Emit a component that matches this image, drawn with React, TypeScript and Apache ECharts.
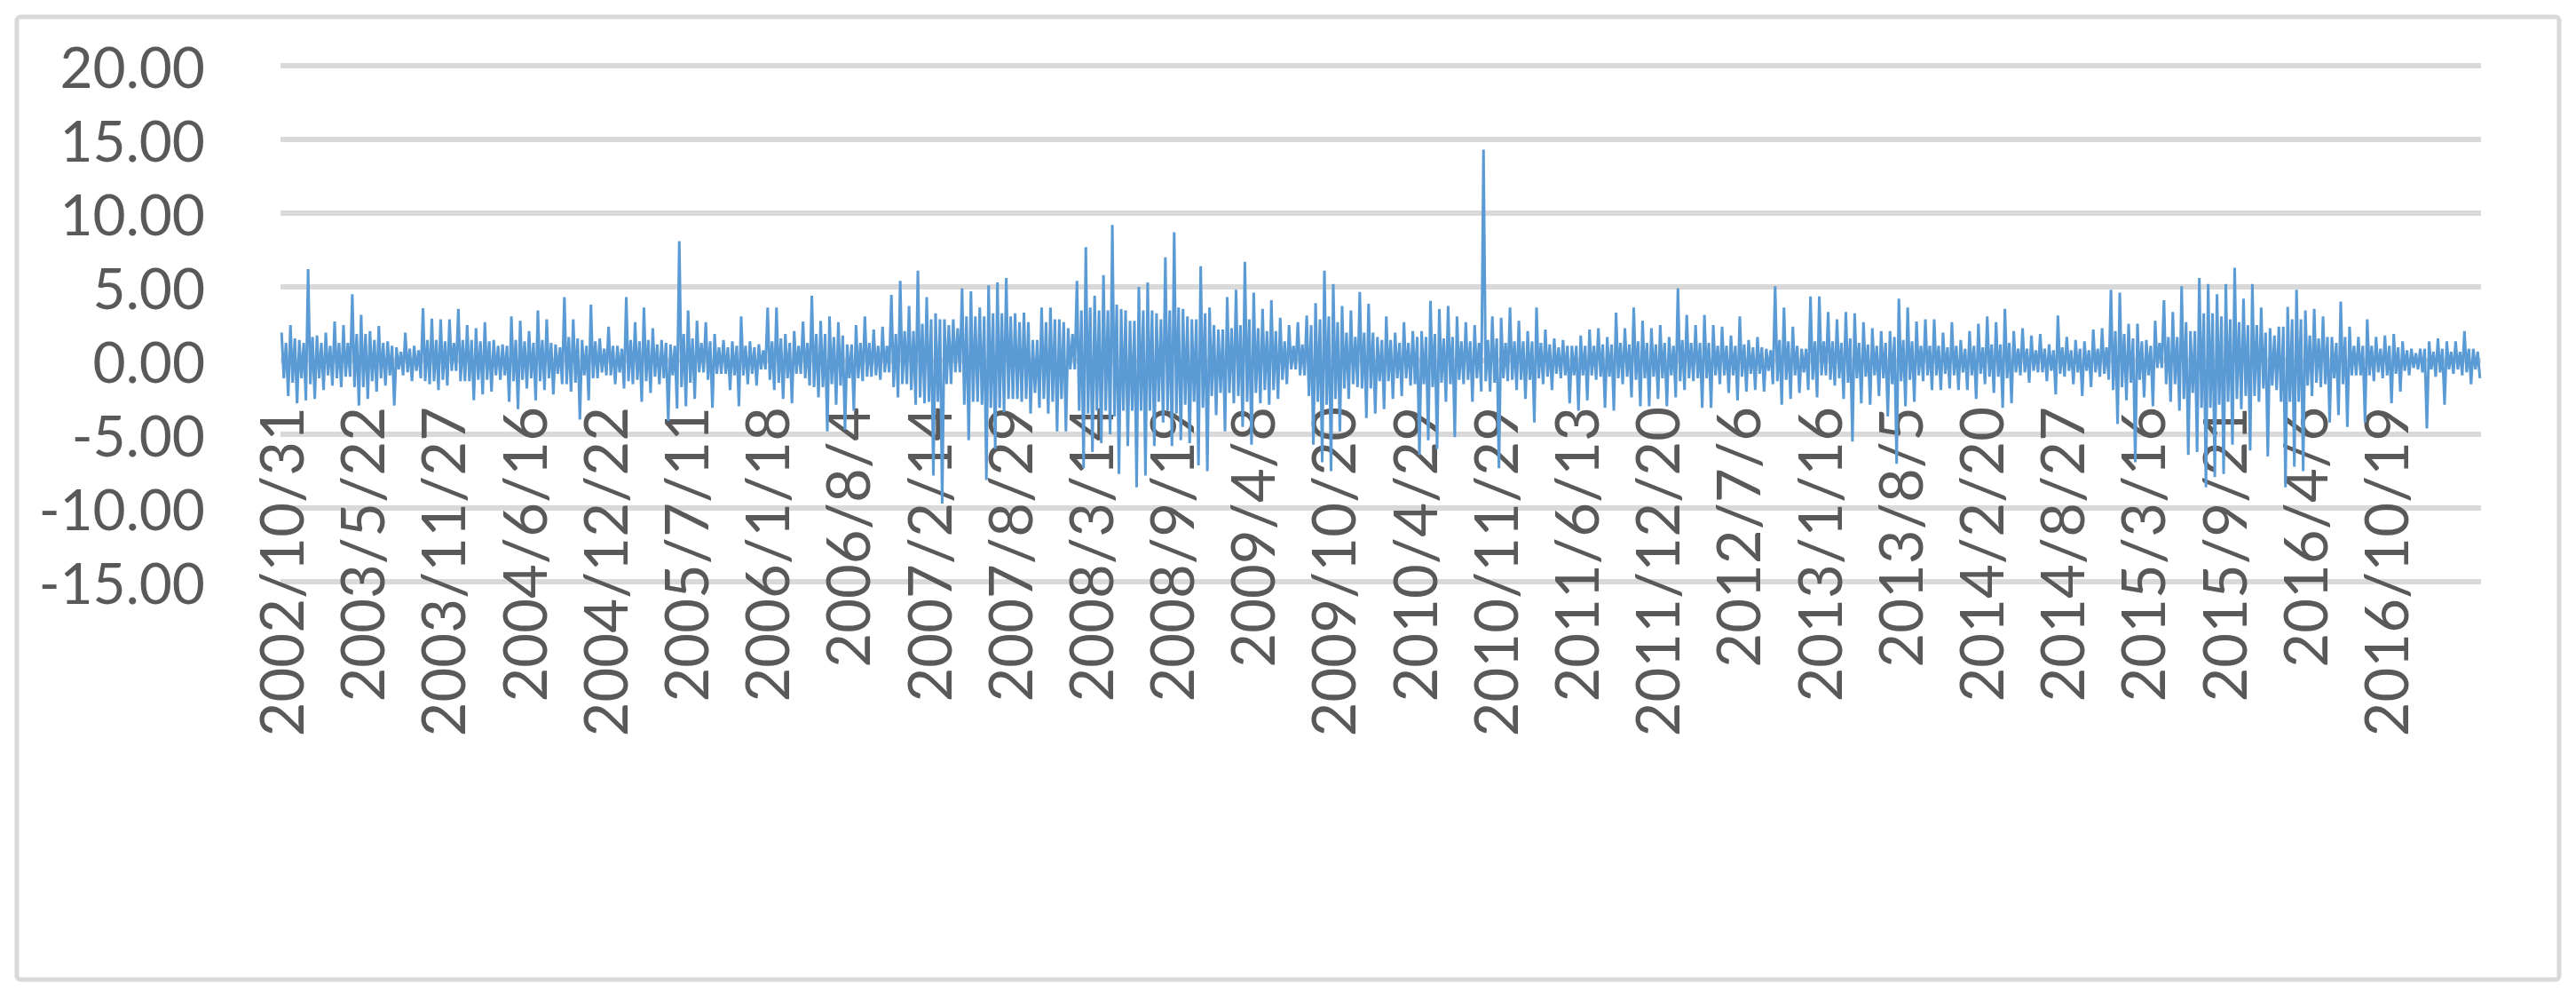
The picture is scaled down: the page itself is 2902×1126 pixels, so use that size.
import React, { useEffect, useRef } from 'react';
import * as echarts from 'echarts';

const tickLabels = [
  '2002/10/31', '2003/5/22', '2003/11/27', '2004/6/16', '2004/12/22', '2005/7/11',
  '2006/1/18', '2006/8/4', '2007/2/14', '2007/8/29', '2008/3/14', '2008/9/19',
  '2009/4/8', '2009/10/20', '2010/4/29', '2010/11/29', '2011/6/13', '2011/12/20',
  '2012/7/6', '2013/1/16', '2013/8/5', '2014/2/20', '2014/8/27', '2015/3/16',
  '2015/9/21', '2016/4/6', '2016/10/19',
];
const totalDays = 3535;
const labelStep = 130;
const yTicks = { min: -15, max: 20, step: 5 };

// Per-window (about 14 trading days) extremes
const highs = [
  1.9, 2.4, 1.4, 6.2, 1.7, 1.9, 2.65, 2.4, 4.5, 3.1, 2.0, 2.35, 1.3, 0.9, 1.9, 1.0, 3.55, 2.85, 2.8, 2.8, 3.5, 2.4, 2.2, 2.6, 1.4,
  1.1, 3.0, 2.7, 2.0, 3.4, 2.8, 1.1, 4.3, 2.8, 1.4, 3.8, 1.5, 2.3, 1.0, 4.3, 2.6, 3.6, 2.2, 1.4, 1.1, 8.1, 3.4, 2.7, 2.6, 1.8,
  1.4, 1.3, 3.0, 1.3, 1.1, 3.6, 3.6, 1.8, 2.0, 2.65, 4.4, 2.7, 3.0, 2.6, 1.1, 2.4, 3.0, 2.1, 2.3, 4.45, 5.4, 3.7, 6.1, 4.3, 3.2,
  2.8, 2.8, 4.9, 4.7, 3.6, 5.1, 5.3, 5.6, 3.2, 3.25, 1.4, 3.6, 3.6, 2.8, 2.2, 5.4, 7.7, 4.4, 5.8, 9.2, 3.5, 2.7, 5.0, 5.3, 3.2,
  7.0, 8.7, 3.5, 2.8, 6.4, 3.6, 2.1, 4.3, 4.8, 6.7, 4.6, 3.5, 4.1, 2.9, 2.4, 2.6, 3.05, 3.9, 6.1, 5.2, 3.7, 3.4, 4.65, 3.85, 1.6,
  3.0, 1.9, 2.6, 2.0, 2.0, 4.05, 3.5, 3.7, 3.0, 2.6, 2.4, 14.3, 3.0, 2.9, 3.6, 2.7, 2.0, 3.6, 2.1, 1.5, 1.4, 1.0, 1.7, 2.1, 2.2,
  1.6, 3.25, 2.2, 3.6, 2.7, 2.2, 2.4, 1.6, 4.9, 3.1, 2.4, 3.1, 2.4, 2.3, 1.7, 3.0, 1.4, 1.6, 0.8, 5.05, 3.6, 2.3, 0.8, 4.35, 4.35,
  3.3, 2.8, 3.3, 3.2, 2.6, 2.2, 2.0, 2.0, 4.2, 3.6, 2.65, 2.8, 2.8, 1.9, 2.6, 1.4, 2.0, 2.5, 3.0, 2.6, 3.5, 2.0, 2.2, 1.7, 1.8,
  1.1, 3.05, 1.6, 1.4, 1.3, 2.1, 2.2, 4.8, 4.6, 2.5, 2.5, 1.4, 2.7, 4.1, 3.3, 5.05, 2.0, 5.6, 5.2, 4.5, 5.2, 6.3, 4.2, 5.2, 3.6,
  2.2, 2.3, 3.65, 4.8, 3.4, 3.5, 3.0, 1.6, 4.0, 2.3, 1.6, 2.8, 1.6, 1.7, 1.8, 1.3, 0.8, 0.8, 1.3, 1.5, 1.3, 1.3, 2.0, 0.8,
];
const lows = [
  -2.4, -2.9, -2.7, -2.6, -2.0, -1.7, -1.8, -1.1, -3.05, -2.6, -2.1, -1.7, -3.05, -1.0, -1.4, -1.2, -1.6, -2.0, -1.7, -0.7, -1.4, -2.7, -2.3, -2.1, -1.3,
  -2.8, -3.3, -1.9, -2.7, -2.0, -2.3, -1.6, -2.1, -4.0, -2.7, -1.2, -1.0, -1.6, -1.9, -1.6, -2.8, -2.2, -1.6, -4.1, -3.25, -3.1, -2.6, -0.8, -3.2, -0.9,
  -2.0, -3.1, -1.6, -1.7, -0.6, -2.0, -2.6, -2.9, -0.9, -1.7, -2.5, -4.8, -3.0, -4.7, -3.4, -1.4, -1.1, -1.3, -0.8, -2.5, -1.6, -3.0, -2.9, -7.8, -9.7,
  -1.6, -0.8, -5.4, -2.8, -8.1, -6.0, -3.5, -2.6, -2.8, -3.6, -3.2, -3.6, -4.8, -4.8, -0.6, -7.3, -6.2, -5.6, -5.0, -7.7, -5.8, -8.6, -7.8, -5.8, -4.2,
  -5.8, -5.4, -5.6, -7.1, -7.5, -3.7, -4.8, -2.9, -4.5, -5.7, -2.9, -3.0, -2.6, -1.6, -0.6, -1.0, -5.7, -6.9, -7.5, -4.8, -2.6, -1.8, -3.9, -3.6, -3.3,
  -2.6, -2.4, -1.7, -6.4, -5.4, -6.0, -2.8, -5.2, -1.6, -2.8, -2.1, -2.1, -7.3, -1.4, -2.0, -2.6, -4.2, -1.6, -2.0, -1.2, -2.9, -3.4, -2.7, -1.3, -3.2,
  -3.4, -1.6, -2.5, -3.1, -3.1, -2.6, -3.1, -2.5, -2.0, -1.4, -3.2, -3.2, -1.6, -2.2, -2.7, -2.1, -2.0, -2.1, -1.6, -3.0, -2.6, -2.2, -2.0, -2.5, -1.0,
  -1.7, -2.6, -5.5, -2.9, -3.0, -2.4, -3.8, -7.0, -3.1, -2.8, -1.4, -2.0, -2.0, -1.9, -2.0, -2.0, -2.6, -1.6, -2.2, -3.2, -2.9, -1.0, -1.5, -0.8, -1.4,
  -2.3, -1.1, -1.6, -2.4, -1.8, -1.1, -1.3, -4.3, -2.7, -6.9, -2.5, -3.1, -0.5, -2.8, -3.4, -6.4, -6.2, -8.6, -7.9, -7.7, -5.7, -3.3, -6.1, -2.8, -6.5,
  -2.0, -8.6, -7.2, -7.5, -2.4, -1.8, -4.2, -3.7, -4.5, -1.0, -4.2, -1.4, -1.2, -2.9, -2.1, -1.0, -0.6, -4.6, -1.1, -3.0, -0.9, -1.0, -1.6, -1.2,
];
// Half-height of the solid core of daily moves in each window
const coreBand = [
  1.2, 1.5, 1.2, 1.6, 1.2, 1.0, 1.2, 1.2, 1.8, 1.8, 1.4, 1.2, 1.0, 0.6, 0.8, 0.7, 1.4, 1.4, 1.3, 1.2, 1.4, 1.4, 1.3, 1.3, 1.0,
  1.0, 1.4, 1.3, 1.2, 1.4, 1.2, 0.9, 1.6, 1.5, 1.0, 1.3, 0.8, 1.0, 0.8, 1.4, 1.3, 1.4, 1.1, 1.2, 1.0, 1.8, 1.5, 1.2, 1.3, 0.9,
  0.9, 1.0, 1.0, 0.9, 0.7, 1.3, 1.5, 1.2, 1.0, 1.2, 1.8, 1.8, 1.6, 1.7, 1.2, 1.2, 1.2, 1.0, 1.0, 1.8, 2.0, 2.0, 2.5, 2.8, 2.8,
  2.4, 2.2, 3.0, 3.0, 3.0, 3.2, 3.2, 3.0, 2.6, 2.6, 2.2, 2.6, 2.8, 2.6, 1.8, 3.4, 3.6, 3.4, 3.4, 3.8, 3.4, 3.4, 3.4, 3.4, 2.8,
  3.4, 3.6, 3.0, 2.8, 3.2, 2.4, 2.2, 2.2, 2.4, 2.8, 2.2, 2.0, 2.0, 1.3, 1.0, 1.1, 2.4, 2.8, 3.0, 2.6, 1.9, 1.6, 1.9, 1.9, 1.4,
  1.4, 1.2, 1.2, 1.6, 1.6, 1.8, 1.5, 1.6, 1.3, 1.3, 1.2, 1.4, 1.5, 1.2, 1.3, 1.3, 1.3, 1.2, 1.1, 0.9, 1.0, 1.0, 1.0, 1.0, 1.1,
  1.1, 1.2, 1.1, 1.3, 1.2, 1.1, 1.2, 1.0, 1.4, 1.2, 1.2, 1.2, 1.0, 1.0, 1.0, 1.1, 0.9, 0.9, 0.7, 1.4, 1.3, 1.0, 0.8, 1.3, 1.3,
  1.3, 1.2, 1.5, 1.2, 1.1, 1.0, 1.2, 1.6, 1.4, 1.3, 1.0, 1.0, 1.0, 0.9, 1.0, 0.8, 1.0, 0.9, 1.1, 1.1, 1.2, 0.8, 0.8, 0.7, 0.8,
  0.7, 0.9, 0.7, 0.8, 0.7, 0.8, 0.9, 2.0, 1.8, 1.5, 1.3, 1.0, 1.2, 1.6, 1.6, 2.6, 2.2, 3.2, 3.2, 3.0, 2.8, 2.6, 2.4, 2.4, 1.9,
  1.7, 2.8, 2.8, 2.8, 1.7, 1.5, 1.6, 1.2, 1.6, 1.0, 1.0, 1.0, 0.8, 1.0, 0.9, 0.7, 0.5, 0.8, 0.6, 0.8, 0.6, 0.6, 0.8, 0.6,
];

const FONT = 'Lato';
const TEXT = '#595959';
const GRID = '#d9d9d9';
const BLUE = '#5b9bd5';

const GRID_TOP = 74;
const GRID_BOTTOM = 471;
const CHART_H = 1126;

export default function App() {
  const ref = useRef<HTMLDivElement>(null);
  useEffect(() => {
    document.body.style.margin = '0';
    const chart = echarts.init(ref.current as HTMLDivElement, undefined, { renderer: 'svg' });
    const n = Math.min(highs.length, lows.length, coreBand.length);
    const span = totalDays - 1;
    const data: [number, number][] = [];
    const per = 4;
    for (let i = 0; i < n; i++) {
      const c = coreBand[i];
      const vals = [highs[i], Math.max(-c, lows[i]), Math.min(c, highs[i]), lows[i]];
      for (let j = 0; j < per; j++) {
        data.push([((i * per + j + 0.5) * span) / (n * per), vals[j]]);
      }
    }
    const plotH = CHART_H - GRID_TOP - GRID_BOTTOM;
    const zeroFromBottom = (plotH * (0 - yTicks.min)) / (yTicks.max - yTicks.min);
    chart.setOption({
      animation: false,
      backgroundColor: '#ffffff',
      grid: { left: 316, right: 107, top: GRID_TOP, bottom: GRID_BOTTOM, containLabel: false },
      graphic: [
        {
          type: 'rect',
          shape: { x: 19, y: 19, width: 2864, height: 1084, r: 4 },
          style: { fill: 'none', stroke: GRID, lineWidth: 5 },
          silent: true,
        },
      ],
      xAxis: {
        type: 'value',
        min: 0,
        max: span,
        interval: labelStep,
        offset: -zeroFromBottom,
        axisLine: { show: false, onZero: false },
        axisTick: { show: false },
        splitLine: { show: false },
        axisLabel: {
          rotate: 90,
          margin: 52,
          fontSize: 67,
          fontFamily: FONT,
          color: TEXT,
          showMaxLabel: false,
          formatter: (v: number) => {
            const k = Math.round(v / labelStep);
            if (Math.abs(v - k * labelStep) > 1e-6) return '';
            return k < tickLabels.length ? tickLabels[k] : '';
          },
        },
      },
      yAxis: {
        type: 'value',
        min: yTicks.min,
        max: yTicks.max,
        interval: yTicks.step,
        axisLine: { show: false },
        axisTick: { show: false },
        splitLine: { show: true, lineStyle: { color: GRID, width: 6 } },
        axisLabel: {
          margin: 85,
          fontSize: 64,
          fontFamily: FONT,
          color: TEXT,
          formatter: (v: number) => v.toFixed(2),
        },
      },
      series: [
        {
          type: 'line',
          data,
          showSymbol: false,
          symbol: 'none',
          lineStyle: { color: BLUE, width: 3 },
          itemStyle: { color: BLUE },
          z: 3,
        },
      ],
    });
    return () => chart.dispose();
  }, []);
  return <div ref={ref} style={{ width: 2902, height: CHART_H }} />;
}
